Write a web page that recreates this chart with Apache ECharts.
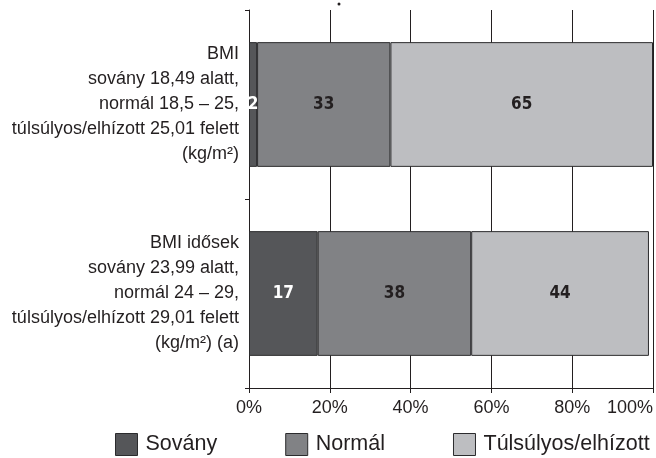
<!DOCTYPE html>
<html>
<head>
<meta charset="utf-8">
<script src="https://cdn.jsdelivr.net/npm/echarts@6/dist/echarts.min.js"></script>
<style>
  html, body { margin: 0; padding: 0; background: #fff; }
  #chart { width: 656px; height: 458px; }
</style>
</head>
<body>
<div id="chart"></div>
<script>
// Category labels (multi-line), top to bottom
const categories = [
  'BMI\nsovány 18,49 alatt,\nnormál 18,5 – 25,\ntúlsúlyos/elhízott 25,01 felett\n(kg/m²)',
  'BMI idősek\nsovány 23,99 alatt,\nnormál 24 – 29,\ntúlsúlyos/elhízott 29,01 felett\n(kg/m²) (a)'
];
const seriesNames = ['Sovány', 'Normál', 'Túlsúlyos/elhízott'];
const sovany = [2, 17];
const normal = [33, 38];
const tulsulyos = [65, 44];
const xTicks = [0, 20, 40, 60, 80, 100];

const colors = ['#555659', '#818285', '#bdbec1'];
const labelColors = ['#ffffff', '#231f20', '#231f20'];
const FONT = 'Liberation Sans, Arial, sans-serif';
const NARROW = "'Liberation Sans Narrow', 'DejaVu Sans Condensed', 'Liberation Sans', sans-serif";

const values = [sovany, normal, tulsulyos];

const chart = echarts.init(document.getElementById('chart'));
chart.setOption({
  animation: false,
  backgroundColor: '#ffffff',
  grid: {
    left: 249, right: 3, top: 10, bottom: 70,
    containLabel: false,
    outerBoundsMode: 'none'
  },
  legend: {
    data: seriesNames,
    icon: 'rect',
    left: 110,
    top: 428,
    itemWidth: 22,
    itemHeight: 22,
    itemGap: 68,
    itemStyle: { borderColor: '#2b2b2d', borderWidth: 1 },
    textStyle: { fontFamily: FONT, fontSize: 21.5, color: '#231f20', padding: [0, 0, 0, 3] },
    selectedMode: false
  },
  xAxis: {
    type: 'value',
    min: xTicks[0],
    max: xTicks[xTicks.length - 1],
    interval: xTicks[1] - xTicks[0],
    axisLine: { show: true, lineStyle: { color: '#231f20', width: 1 } },
    axisTick: { show: true, length: 5, lineStyle: { color: '#231f20' } },
    splitLine: { show: true, lineStyle: { color: '#231f20', width: 1 } },
    axisLabel: {
      formatter: '{value}%',
      fontFamily: FONT,
      fontSize: 18,
      color: '#231f20',
      margin: 11,
      alignMaxLabel: 'right'
    }
  },
  yAxis: {
    type: 'category',
    inverse: true,
    data: categories,
    axisLine: { show: true, lineStyle: { color: '#231f20', width: 1 } },
    axisTick: { show: true, length: 4, lineStyle: { color: '#231f20' } },
    axisLabel: {
      fontFamily: FONT,
      fontSize: 18,
      lineHeight: 25,
      color: '#231f20',
      align: 'right',
      margin: 10
    }
  },
  graphic: [{
    type: 'circle',
    shape: { cx: 339, cy: 4, r: 1.5 },
    style: { fill: '#231f20' },
    silent: true
  }],
  series: seriesNames.map((name, i) => ({
    name: name,
    type: 'bar',
    stack: 'total',
    barWidth: '66%',
    data: values[i],
    itemStyle: { color: colors[i], borderColor: '#2b2b2d', borderWidth: 1 },
    label: {
      show: true,
      position: 'inside',
      fontFamily: NARROW,
      fontWeight: 'bold',
      fontSize: 17,
      color: labelColors[i]
    }
  }))
});
</script>
</body>
</html>
